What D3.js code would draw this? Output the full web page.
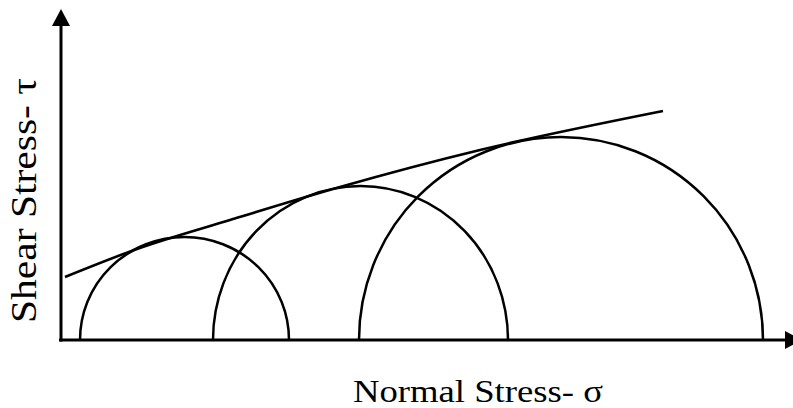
<!DOCTYPE html>
<meta charset="utf-8">
<style>
body {
  margin: 0;
  background: #fff;
}
.axis-line {
  stroke: #000;
  stroke-width: 3;
}
.mohr {
  fill: none;
  stroke: #000;
  stroke-width: 2.5;
}
.envelope {
  fill: none;
  stroke: #000;
  stroke-width: 2.6;
}
.label {
  font-family: "Liberation Serif", "Times New Roman", serif;
  fill: #000;
}
</style>
<body>
<svg width="793" height="408"></svg>
<script src="https://d3js.org/d3.v7.min.js"></script>
<script>
// Mohr circles: minor and major principal stress, peak shear
var sigma3 = [1.9, 15.2, 29.8],
    sigma1 = [22.8, 44.7, 70.2],
    tauPeak = [10.3, 15.4, 20.3];

// failure envelope, slightly curved
var envSigma = [0.4, 7.6, 16.9, 27.9, 41.9, 60.2],
    envTau = [6.3, 9.1, 12.0, 15.3, 19.0, 22.9];

var xLabel = "Normal Stress- \u03c3",
    yLabel = "Shear Stress- \u03c4";

var svg = d3.select("svg");

var x = d3.scaleLinear().domain([0, 73]).range([61, 791]),
    y = d3.scaleLinear().domain([0, 33]).range([340, 10]);

var g = svg.append("g");

// axes with arrow heads
g.append("line")
    .attr("class", "axis-line")
    .attr("x1", x(0) - 2).attr("y1", y(0))
    .attr("x2", x(72.4)).attr("y2", y(0));
g.append("path")
    .attr("d", "M" + x(72.4) + "," + (y(0) - 9) + "L" + (x(72.4) + 17) + "," + y(0) + "L" + x(72.4) + "," + (y(0) + 9) + "Z")
    .attr("fill", "#000");

g.append("line")
    .attr("class", "axis-line")
    .attr("x1", x(0)).attr("y1", y(0) + 1.5)
    .attr("x2", x(0)).attr("y2", y(31.4));
g.append("path")
    .attr("d", "M" + (x(0) - 9) + "," + y(31.4) + "L" + x(0) + "," + (y(31.4) - 17) + "L" + (x(0) + 9) + "," + y(31.4) + "Z")
    .attr("fill", "#000");

// half circles
var circles = sigma3.map(function(s, i) {
  return {s3: s, s1: sigma1[i], tau: tauPeak[i]};
});

g.selectAll(".mohr")
    .data(circles)
    .enter().append("path")
      .attr("class", "mohr")
      .attr("d", function(d) {
        var rx = (x(d.s1) - x(d.s3)) / 2,
            ry = y(0) - y(d.tau);
        return "M" + x(d.s3) + "," + y(0) +
               "A" + rx + "," + ry + " 0 0 1 " + x(d.s1) + "," + y(0);
      });

// envelope
var env = envSigma.map(function(s, i) { return [s, envTau[i]]; });

g.append("path")
    .datum(env)
    .attr("class", "envelope")
    .attr("d", d3.line()
        .x(function(d) { return x(d[0]); })
        .y(function(d) { return y(d[1]); })
        .curve(d3.curveMonotoneX));

// labels
svg.append("text")
    .attr("class", "label")
    .attr("x", 353)
    .attr("y", 402)
    .attr("textLength", 250)
    .attr("lengthAdjust", "spacingAndGlyphs")
    .style("font-size", "32px")
    .text(xLabel);

svg.append("text")
    .attr("class", "label")
    .attr("transform", "translate(36,323) rotate(-90)")
    .attr("textLength", 245)
    .attr("lengthAdjust", "spacingAndGlyphs")
    .style("font-size", "35px")
    .text(yLabel);
</script>
</body>
